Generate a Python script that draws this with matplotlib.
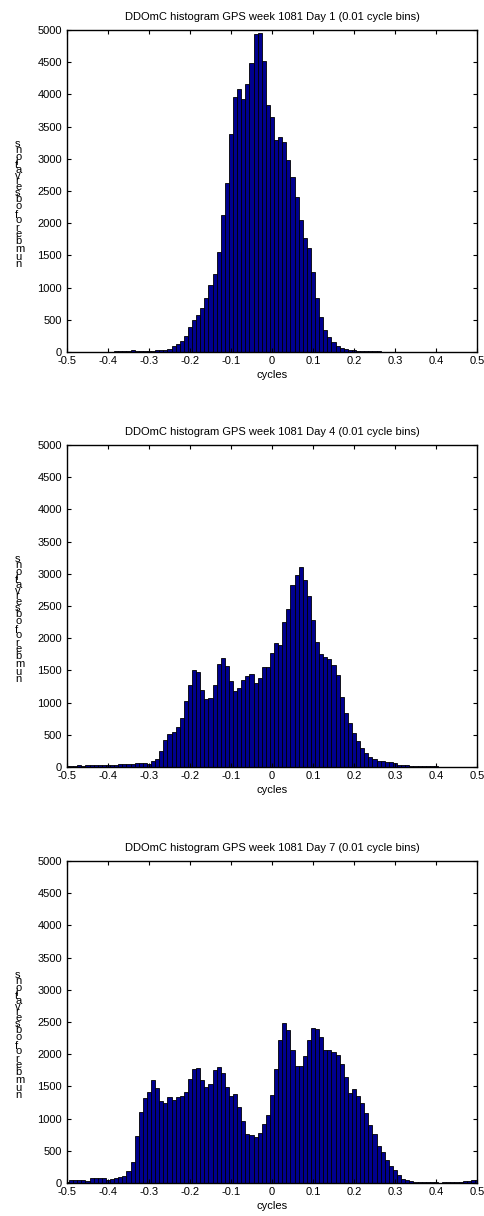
import numpy as np
import matplotlib
matplotlib.use('Agg')
import matplotlib.pyplot as plt
from matplotlib.font_manager import FontProperties, findfont, get_font

plt.rcParams['font.family'] = ['Liberation Sans', 'DejaVu Sans']
plt.rcParams['font.size'] = 8

# bin centres, 0.01 cycle apart
centers = np.round(np.arange(-50, 51) * 0.01, 2)

day1 = [0, 0, 0, 0, 0, 0, 0, 0, 0, 0, 0, 0,
        10, 15, 15, 20, 30, 15, 15, 20, 15, 20, 25, 25,
        31, 47, 88, 129, 176, 254, 393, 497, 570, 688,
        844, 1035, 1211, 1553, 2120, 2619, 3380, 3960, 4080, 3930,
        4157, 4493, 4934, 4954, 4519, 3840, 3654, 3292, 3344, 3267,
        2982, 2723, 2412, 2050, 1765, 1610, 1248, 833, 549, 342,
        238, 150, 93, 57, 47, 31, 25, 20, 18, 15,
        12, 10, 8, 5, 5, 3, 3,
        0, 0, 0, 0, 0, 0, 0, 0, 0, 0, 0, 0, 0, 0, 0, 0, 0, 0, 0, 0]

day4 = [15, 15, 15, 25, 20, 35, 35, 35, 35, 35, 35, 35, 35, 40, 45, 50, 50, 55, 60,
        57, 47, 98, 129, 254, 419, 512, 538, 626, 756,
        1030, 1268, 1506, 1470, 1196, 1051, 1066, 1268, 1594, 1688,
        1568, 1335, 1180, 1227, 1351, 1413, 1444, 1299, 1387, 1548,
        1548, 1765, 1920, 1889, 2252, 2459, 2826, 2982, 3101, 2904,
        2661, 2283, 1946, 1755, 1713, 1677, 1584, 1429, 1092, 843,
        678, 533, 404, 300, 212, 160, 124, 98, 88, 78,
        78, 67, 36, 31, 26,
        20, 18, 15, 12, 10, 8, 8, 5, 5, 5, 5, 3, 3, 3, 2, 2, 2]

day7 = [20, 40, 45, 45, 45, 30, 70, 75, 75, 70, 50,
        62, 83, 98, 114, 181, 321, 725, 1098, 1315, 1418,
        1595, 1470, 1278, 1238, 1331, 1294, 1331, 1346, 1418, 1620,
        1775, 1791, 1595, 1486, 1542, 1750, 1806, 1713, 1496, 1356,
        1377, 1176, 968, 766, 740, 719, 781, 921, 1061, 1371,
        1775, 2216, 2485, 2371, 2061, 1822, 1822, 1977, 2216, 2407,
        2392, 2262, 2070, 2070, 2040, 1988, 1853, 1646, 1398, 1455,
        1346, 1248, 1092, 906, 756, 570, 481, 352, 259, 207,
        119, 67, 41, 26,
        15, 15, 12, 10, 10, 8, 5, 8, 12, 15, 15, 20, 30, 35, 40, 45]

days = [1, 4, 7]
series = [day1, day4, day7]

xticks = [-0.5, -0.4, -0.3, -0.2, -0.1, 0.0, 0.1, 0.2, 0.3, 0.4, 0.5]
xticklabels = ['-0.5', '-0.4', '-0.3', '-0.2', '-0.1', '0',
               '0.1', '0.2', '0.3', '0.4', '0.5']
yticks = list(range(0, 5001, 500))
ylabel = 'number of observations'

W, H = 484, 1216
AX_L, AX_W, AX_H = 67, 410, 322
tops = [30, 445, 861]

fig = plt.figure(figsize=(W / 100, H / 100), dpi=100)
fig.patch.set_facecolor('white')

# per-character advances for the stacked y label
font = get_font(findfont(FontProperties(family='Liberation Sans')))
font.set_size(8, 100)
adv = [font.load_char(ord(c)).linearHoriAdvance / 65536 for c in ylabel]
cum = np.concatenate([[0], np.cumsum(adv)[:-1]])
mids = cum + np.array(adv) / 2
mid = (mids[0] + mids[-1]) / 2

for counts, day, top in zip(series, days, tops):
    ax = fig.add_axes([AX_L / W, 1 - (top + AX_H) / H, AX_W / W, AX_H / H])
    ax.bar(centers, counts, width=0.01, color='#00008f',
           edgecolor='black', linewidth=0.6)
    ax.set_xlim(-0.5, 0.5)
    ax.set_ylim(0, 5000)
    ax.set_xticks(xticks)
    ax.set_xticklabels(xticklabels)
    ax.set_yticks(yticks)
    ax.tick_params(direction='in', length=3, width=0.8,
                   top=True, right=True, labelsize=8)
    ax.tick_params(axis='x', pad=3)
    ax.tick_params(axis='y', pad=3.5)
    for sp in ax.spines.values():
        sp.set_linewidth(1.0)
    ax.set_title('DDOmC histogram GPS week 1081 Day %d (0.01 cycle bins)' % day,
                 fontsize=8, pad=7)
    ax.set_xlabel('cycles', fontsize=8, labelpad=3)

    # y label drawn as upright letters stacked bottom to top
    yc = top + AX_H / 2 + 13
    for ch, m in zip(ylabel, mids):
        if ch == ' ':
            continue
        ypx = yc + (mid - m) * 1.09
        fig.text(15 / W, 1 - ypx / H, ch, ha='left', va='center', fontsize=8)

fig.savefig('out.png', dpi=100)
